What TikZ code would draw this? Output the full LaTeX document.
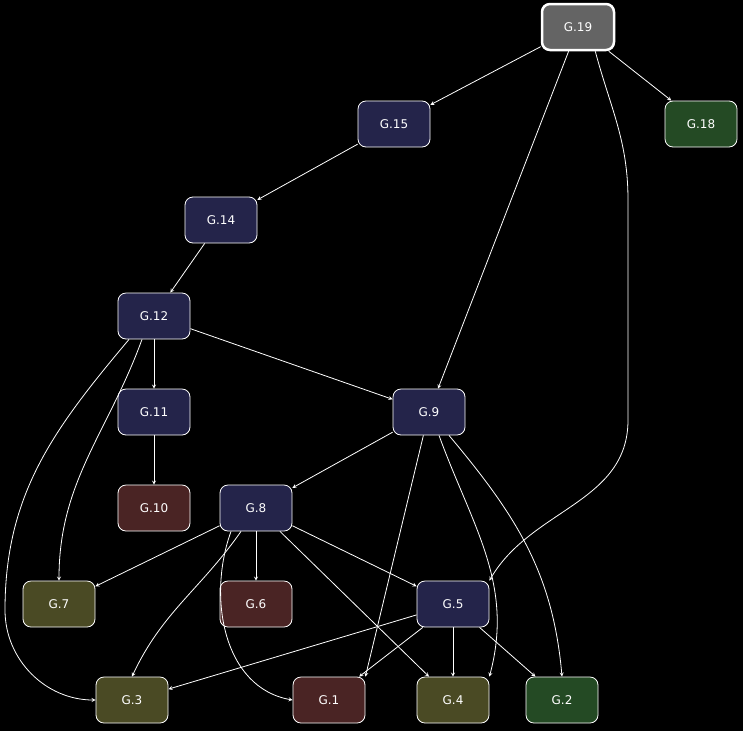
\documentclass[tikz,border=0pt]{standalone}
\usepackage{fontspec}
\setmainfont{DejaVu Sans}
\begin{document}
\begin{tikzpicture}[x=1pt,y=-1pt,
  n/.style={draw=white,rounded corners=8pt,minimum width=72pt,minimum height=46pt,text=white,font=\fontsize{12}{14}\selectfont,line width=0.8pt},
  nv/.style={n,fill={rgb,255:red,36;green,36;blue,74}},
  mr/.style={n,fill={rgb,255:red,74;green,36;blue,36}},
  ol/.style={n,fill={rgb,255:red,74;green,74;blue,36}},
  gr/.style={n,fill={rgb,255:red,36;green,74;blue,36}},
  e/.style={draw=white,->,>=stealth,line width=0.8pt}]
\fill[black] (0,0) rectangle (743,731);
\useasboundingbox (0,0) rectangle (743,731);
\node[n,fill={rgb,255:red,100;green,100;blue,100},line width=2.5pt] (g19) at (578,27) {G.19};
\node[nv] (g15) at (394,124) {G.15};
\node[gr] (g18) at (701,124) {G.18};
\node[nv] (g14) at (221,220) {G.14};
\node[nv] (g12) at (154,316) {G.12};
\node[nv] (g11) at (154,412) {G.11};
\node[nv] (g9) at (429,412) {G.9};
\node[mr] (g10) at (154,508) {G.10};
\node[nv] (g8) at (256,508) {G.8};
\node[ol] (g7) at (59,604) {G.7};
\node[mr] (g6) at (256,604) {G.6};
\node[nv] (g5) at (453,604) {G.5};
\node[ol] (g3) at (132,700) {G.3};
\node[mr] (g1) at (329,700) {G.1};
\node[ol] (g4) at (453,700) {G.4};
\node[gr] (g2) at (562,700) {G.2};
\draw[e] (g19) -- (g15);
\draw[e] (g19) -- (g18);
\draw[e] (g19) -- (g9);
\draw[e] (g19.south east) ++(-20,0) to[out=-75,in=90] (628,200) -- (628,420) to[out=-90,in=60] (g5.north east);
\draw[e] (g15) -- (g14);
\draw[e] (g14) -- (g12);
\draw[e] (g12) -- (g11);
\draw[e] (g12) -- (g9);
\draw[e] (g12.south) ++(-25,0) to[out=-130,in=90] (5,610) to[out=-90,in=180] (g3.west);
\draw[e] (g12.south) ++(-12,0) to[out=-110,in=90] (g7.north);
\draw[e] (g11) -- (g10);
\draw[e] (g9) -- (g8);
\draw[e] (g9) -- (g1.north east);
\draw[e] (g9.south) ++(10,0) to[out=-70,in=75] (g4.north east);
\draw[e] (g9.south) ++(20,0) to[out=-50,in=95] (g2.north);
\draw[e] (g8) -- (g7);
\draw[e] (g8) -- (g6);
\draw[e] (g8) -- (g5);
\draw[e] (g8) -- (g4);
\draw[e] (g8.south) ++(-15,0) to[out=-125,in=65] (g3.north);
\draw[e] (g8.south) ++(-25,0) to[out=-110,in=170] (g1.west);
\draw[e] (g5) -- (g3);
\draw[e] (g5) -- (g1);
\draw[e] (g5) -- (g4);
\draw[e] (g5) -- (g2);
\end{tikzpicture}
\end{document}
